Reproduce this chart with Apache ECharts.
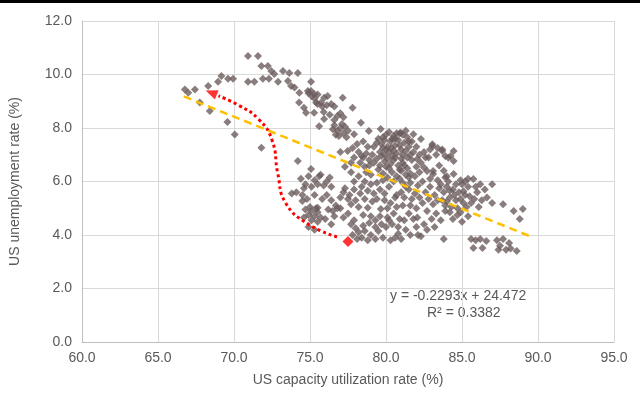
<!DOCTYPE html>
<html>
<head>
<meta charset="utf-8">
<script src="https://cdn.jsdelivr.net/npm/echarts@6/dist/echarts.min.js"></script>
<style>
  html, body { margin: 0; padding: 0; background: #fff; }
  #chart { width: 640px; height: 394px; }
</style>
</head>
<body>
<div id="chart"></div>
<script>
// capacity utilization (%) vs unemployment (%)
const points = [
  // upper-left arm
  [70.92,10.69],[71.58,10.69],[71.8,10.32],[72.23,10.32],[72.45,10.13],[72.65,10.02],[73.22,10.13],[73.64,10.06],[74.2,10.06],
  [69.17,9.94],[69.61,9.84],[69.94,9.84],[68.95,9.73],[70.92,9.73],[71.34,9.73],[71.9,9.84],[72.3,9.84],[72.9,9.73],
  [73.55,9.76],[73.76,9.57],[73.98,9.51],[74.3,9.32],[75.07,9.73],[74.86,9.38],[75.07,9.38],[75.27,9.27],
  [66.77,9.44],[66.99,9.32],[67.43,9.44],[68.3,9.57],[67.75,8.95],[68.41,8.64],[69.57,8.22],[70.05,7.76],[71.8,7.26],
  [74.2,6.77],[75.07,6.47],[74.28,8.95],[74.6,8.76],[74.74,8.57],[75.27,8.57],[75.4,8.95],[75.73,8.95],[75.93,9.13],
  [75.93,8.34],[75.6,8.07],[76.16,9.2],
  // band 75-78
  [75.5,8.9],[75.8,8.8],[76.1,8.85],[76.4,8.9],[76.6,8.8],[75.9,8.6],[76.3,8.5],[76.8,8.45],[77.0,8.55],[77.2,8.4],
  [76.6,8.3],[77.8,8.76],[78.35,8.2],[77.15,9.13],[75.1,9.2],[75.3,9.1],[75.5,9.25],[74.9,9.3],
  [76.6,8.1],[76.8,7.9],[77.0,8.0],[77.2,7.8],[76.9,7.7],[77.4,7.65],[77.1,8.15],[76.7,7.75],[77.3,8.05],[77.5,7.9],[76.5,7.95],
  // main upper cluster
  [79.5,7.6],[79.7,7.4],[79.9,7.55],[80.1,7.3],[80.3,7.5],[80.5,7.7],[80.6,7.35],[80.8,7.55],[81.0,7.2],[81.2,7.45],
  [81.4,7.65],[81.5,7.3],[79.6,7.1],[79.9,7.0],[80.2,7.1],[80.4,6.95],[80.7,7.05],[81.1,7.0],[81.3,7.15],[81.6,7.0],
  [80.0,7.75],[80.9,7.8],[81.1,7.75],[80.6,7.6],[81.7,7.5],[79.8,7.25],[80.35,7.25],
  [81.8,7.77],[82.3,7.59],[83.05,7.39],[83.7,7.2],[84.45,7.14],[84.1,6.89],[82.06,6.84],[80.97,7.82],[79.65,7.96],
  [78.87,7.89],[77.9,7.77],[82.0,7.3],[82.5,7.1],[82.2,7.0],[82.8,6.9],[83.3,7.0],[83.05,7.33],[83.7,7.14],[84.25,6.95],[84.45,6.77],
  [79.4,7.45],[79.8,7.65],[80.2,7.85],[80.4,7.6],[80.7,7.8],[81.3,7.9],[81.5,7.5],[80.9,7.35],[80.5,7.15],[80.0,7.2],
  [79.7,6.95],[80.1,6.85],[80.6,6.9],[81.0,6.85],[81.4,6.9],[81.8,7.1],[81.2,6.6],[80.9,6.45],[80.3,6.65],[79.5,6.45],
  [80.0,6.55],[81.5,6.15],[82.3,6.7],[82.6,6.9],[82.9,7.2],[83.4,7.25],[83.9,6.95],[83.5,6.6],[83.8,6.4],[84.0,6.2],
  [83.4,6.05],[82.9,6.1],[82.4,6.0],[82.1,5.85],[81.6,5.95],[81.1,5.95],
  [78.2,7.1],[78.5,6.9],[78.7,7.05],[78.9,6.8],[79.1,7.0],[78.3,6.7],[78.6,6.55],[78.9,6.6],[79.2,6.7],[78.4,6.95],
  [77.48,7.14],[77.7,6.7],[79.4,6.85],[79.0,6.25],[78.7,6.35],[78.2,6.2],[77.7,6.35],[77.3,6.55],[77.9,6.9],[78.1,7.4],
  [78.5,7.5],[78.8,7.3],[79.2,7.3],[77.8,7.25],[77.0,7.1],
  [79.6,6.6],[79.9,6.75],[80.2,6.5],[80.5,6.8],[80.8,6.6],[81.1,6.7],[81.4,6.5],[81.7,6.8],[82.0,6.55],[79.8,6.3],
  [80.1,6.15],[80.4,6.35],[80.7,6.2],[81.0,6.4],[81.3,6.25],[81.6,6.3],[81.9,6.2],[82.2,6.35],[82.5,6.52],[82.7,6.39],
  [83.1,6.28],[83.1,6.39],[84.45,6.28],
  // middle-left cluster
  [74.4,6.1],[74.7,5.9],[74.9,6.2],[75.1,5.8],[75.3,6.05],[75.5,5.9],[75.7,6.25],[75.9,5.85],[76.1,6.0],[76.4,5.8],
  [74.6,5.75],[75.6,6.2],[76.3,6.15],[73.8,5.55],[74.1,5.6],[74.5,5.5],[74.5,5.27],
  [76.1,5.5],[75.8,5.35],[75.3,5.5],[74.8,5.35],
  [74.7,4.95],[74.9,4.75],[75.1,4.9],[75.3,4.7],[75.5,4.85],[75.7,4.65],[75.0,5.05],[75.4,5.0],[74.6,4.65],[75.5,5.02],
  [76.2,4.95],[76.5,4.9],[76.8,5.0],[76.4,4.4],[77.7,4.4],
  [75.1,4.55],[75.5,4.5],[74.9,4.3],[75.3,4.2],[76.0,4.6],[76.6,4.7],[77.2,4.65],[77.5,4.8],[77.9,4.55],
  [76.4,5.3],[76.7,5.1],[77.0,5.4],[77.2,5.6],[77.5,5.35],[77.7,5.15],[77.9,5.7],[77.3,5.75],[77.0,5.0],[77.6,5.5],
  [78.0,5.3],[78.3,5.55],
  [78.4,5.8],[78.6,6.0],[78.8,5.65],[79.0,5.9],[79.2,5.55],[79.4,5.95],[79.6,5.7],[79.8,6.05],[77.9,6.0],[80.5,6.0],[80.9,6.1],
  [80.2,5.8],[79.9,5.55],[79.4,5.35],[79.1,5.25],[78.6,5.35],[78.2,5.05],[78.5,4.75],[79.0,4.7],[79.3,4.55],[79.6,4.7],
  [81.0,5.6],[81.2,5.4],[81.5,5.7],[81.7,5.35],[81.9,5.55],[82.2,5.4],[81.3,5.8],[80.7,5.5],
  [79.9,5.3],[80.1,5.0],[80.3,5.2],[80.5,4.8],[80.7,5.05],[80.9,4.6],[80.2,4.55],[80.6,5.4],[79.66,4.97],[78.8,5.02],
  [80.1,4.65],[82.06,4.65],[81.1,5.1],[81.6,5.1],[82.0,5.0],[82.4,5.2],[82.8,5.35],
  // low cluster
  [78.2,4.1],[78.4,3.9],[78.6,4.15],[78.8,3.8],[79.0,4.0],[79.3,3.85],[79.5,4.15],[78.5,4.35],[78.9,4.45],[79.3,4.3],
  [79.7,4.4],[80.0,4.3],[80.3,3.8],[80.6,3.9],[81.0,3.85],[79.8,3.9],[78.0,4.25],[77.8,4.0],[78.1,3.85],
  [81.3,4.2],[81.6,4.0],[82.0,4.3],[82.3,3.95],[81.8,4.6],[82.5,4.4],[80.4,4.4],[80.8,4.3],[81.2,4.55],[81.5,4.8],
  [80.8,4.05],[82.1,4.0],[82.7,4.2],[83.2,4.3],
  // right cluster
  [83.6,5.9],[83.8,5.6],[84.0,5.8],[84.2,5.4],[84.4,5.7],[84.6,5.3],[84.8,5.6],[85.0,5.9],[85.2,5.5],[85.4,5.8],
  [85.6,5.2],[83.9,5.1],[84.3,5.05],[84.7,5.0],[85.1,5.2],[85.5,5.45],[83.7,5.3],[84.1,6.0],[84.9,6.05],[85.75,6.09],
  [86.2,5.9],[86.98,5.9],[85.1,5.64],[86.64,5.4],[86.98,5.2],[87.7,5.15],[88.4,4.9],[89.0,4.97],[88.8,4.6],[86.0,5.6],
  [86.3,5.3],[83.2,5.5],[82.9,5.8],[82.6,5.6],
  [83.1,5.15],[83.4,5.3],[84.0,5.25],[84.5,5.5],[84.9,5.35],[85.3,5.05],[85.8,5.35],[85.9,5.8],[85.4,6.1],[84.6,5.9],
  [84.2,5.65],[83.5,5.75],[83.9,6.15],[85.2,6.0],[86.5,5.7],[86.1,5.05],[84.9,4.85],[84.2,4.85],[85.4,4.7],
  [82.7,4.9],[83.0,4.6],[83.3,4.8],[83.6,4.55],[83.9,4.9],[84.4,4.6],[84.7,4.75],[85.0,4.5],
  [83.8,3.85],[85.6,3.85],[85.9,3.8],[86.2,3.85],[86.6,3.78],[85.75,3.51],[86.35,3.51],[87.3,3.8],[87.5,3.6],
  [87.7,3.85],[87.9,3.45],[88.1,3.7],[88.2,3.5],[88.6,3.4],[87.4,3.45]
];

// linear trend y = -0.2293x + 24.472, drawn across the data range
const trendX = [66.7, 89.4];
const trendY = [9.18, 3.97];

// hand-drawn red dotted path and its end marks
const pathX = [76.78, 74.88, 73.4, 72.88, 72.5, 71.6, 70.3, 68.98];
const pathY = [3.93, 4.41, 5.2, 6.3, 7.55, 8.34, 8.85, 9.2];
const latest = [77.5, 3.76];
const arrowTip = [68.5, 9.32];

const xTicks = { min: 60, max: 95, step: 5 };
const yTicks = { min: 0, max: 12, step: 2 };

const font = 'Liberation Sans, Arial, sans-serif';
const textColor = '#595959';

const chart = echarts.init(document.getElementById('chart'));

chart.setOption({
  backgroundColor: '#fff',
  animation: false,
  grid: { left: 80, right: 26, top: 21, bottom: 52 },
  xAxis: {
    type: 'value',
    min: xTicks.min, max: xTicks.max, interval: xTicks.step,
    name: 'US capacity utilization rate (%)',
    nameLocation: 'middle',
    nameGap: 31,
    nameTextStyle: { color: textColor, fontFamily: font, fontSize: 14 },
    axisLine: { show: true, lineStyle: { color: '#bfbfbf' } },
    axisTick: { show: false },
    axisLabel: { color: textColor, fontFamily: font, fontSize: 14, margin: 9, formatter: v => v.toFixed(1) },
    splitLine: { show: true, lineStyle: { color: '#d9d9d9' } }
  },
  yAxis: {
    type: 'value',
    min: yTicks.min, max: yTicks.max, interval: yTicks.step,
    name: 'US unemployment rate (%)',
    nameLocation: 'middle',
    nameGap: 60,
    nameTextStyle: { color: textColor, fontFamily: font, fontSize: 14 },
    axisLine: { show: true, lineStyle: { color: '#bfbfbf' } },
    axisTick: { show: false },
    axisLabel: { color: textColor, fontFamily: font, fontSize: 14, margin: 10, formatter: v => v.toFixed(1) },
    splitLine: { show: true, lineStyle: { color: '#d9d9d9' } }
  },
  graphic: [
    { type: 'rect', left: 0, top: 0, shape: { width: 640, height: 3 }, style: { fill: '#000' } },
    { type: 'text', left: 390, top: 289, style: { text: 'y = -0.2293x + 24.472', fill: textColor, font: '14px ' + font } },
    { type: 'text', left: 427, top: 306, style: { text: 'R² = 0.3382', fill: textColor, font: '14px ' + font } }
  ],
  series: [
    {
      type: 'scatter',
      data: points,
      symbol: 'diamond',
      symbolSize: 8,
      itemStyle: { color: '#6b5c5c' },
      z: 2
    },
    {
      type: 'line',
      data: trendX.map((x, i) => [x, trendY[i]]),
      symbol: 'none',
      lineStyle: { color: '#ffc000', width: 2.5, type: [8, 5] },
      z: 3
    },
    {
      type: 'line',
      data: pathX.map((x, i) => [x, pathY[i]]),
      symbol: 'none',
      smooth: 0.5,
      lineStyle: { color: '#ff0000', width: 3, type: [3, 3] },
      z: 4
    },
    {
      type: 'scatter',
      data: [arrowTip],
      symbol: 'triangle',
      symbolSize: [10, 12],
      symbolRotate: 68,
      itemStyle: { color: '#ff0000' },
      z: 5
    },
    {
      type: 'scatter',
      data: [latest],
      symbol: 'diamond',
      symbolSize: 11,
      itemStyle: { color: '#ff0000' },
      z: 5
    }
  ]
});
</script>
</body>
</html>
